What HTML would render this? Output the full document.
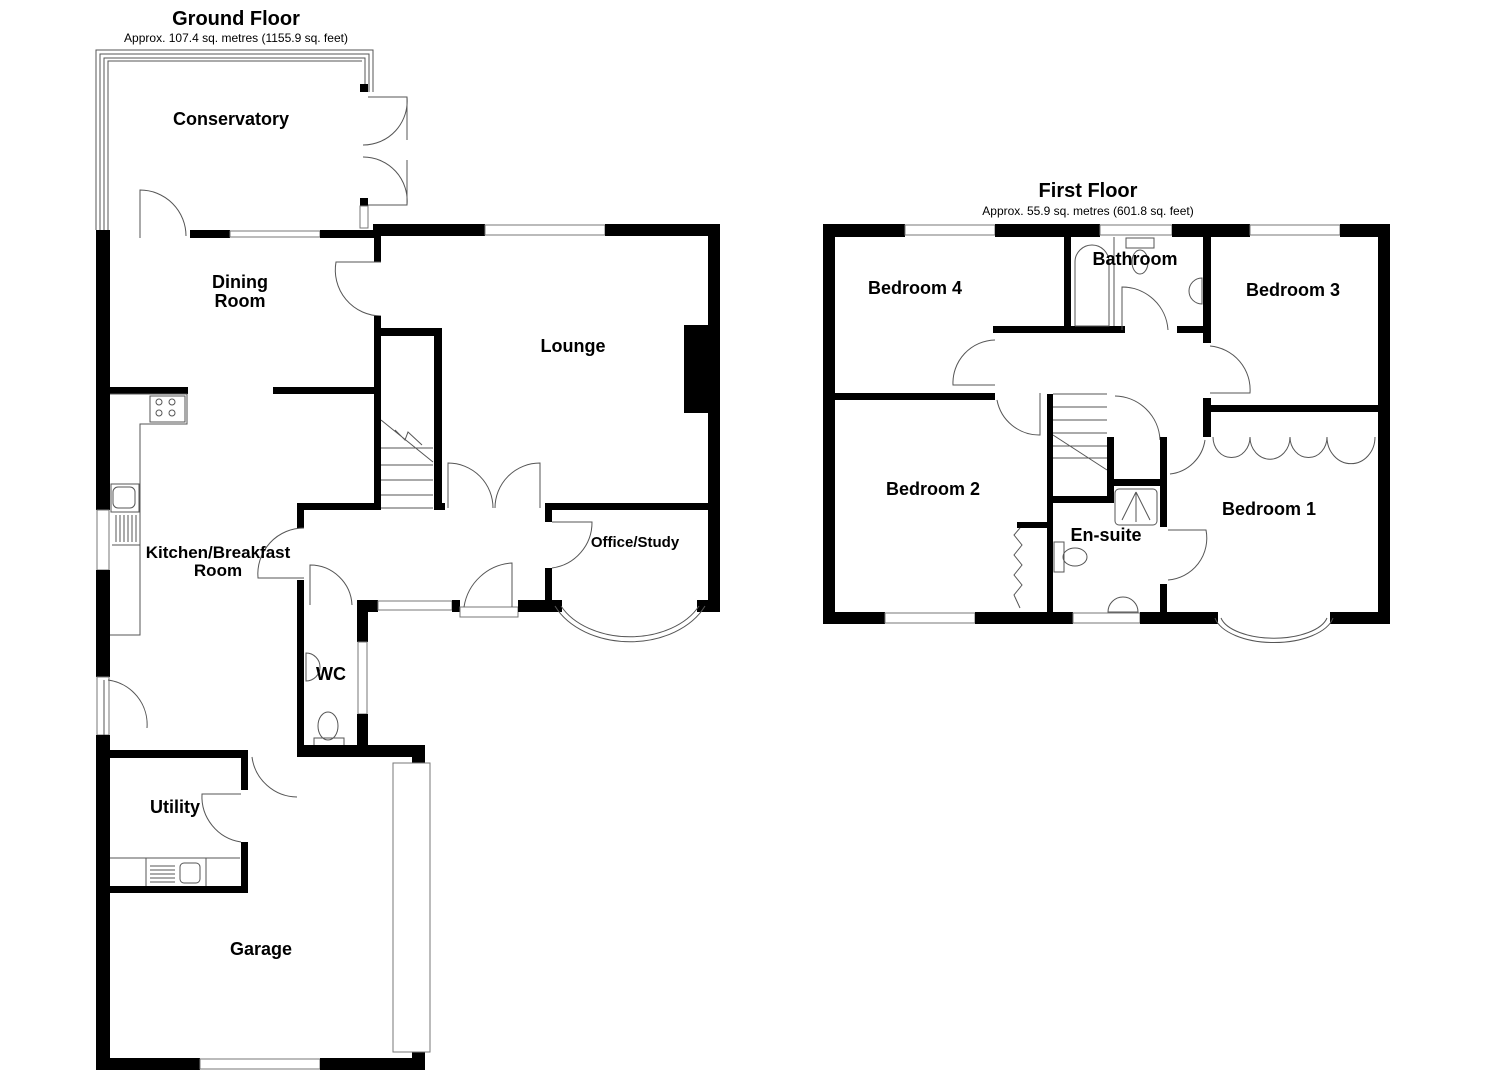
<!DOCTYPE html>
<html><head><meta charset="utf-8"><style>
html,body{margin:0;padding:0;background:#fff;}
svg{display:block}
text{font-family:"Liberation Sans",Arial,sans-serif;font-weight:bold;fill:#000;text-anchor:middle}
.s{font-weight:normal}
.t{fill:none;stroke:#555;stroke-width:1}
.w{fill:#fff;stroke:#777;stroke-width:1}
</style></head><body>
<svg width="1485" height="1080" viewBox="0 0 1485 1080" xmlns="http://www.w3.org/2000/svg">
<!-- titles -->
<text x="236" y="25" font-size="20">Ground Floor</text>
<text x="236" y="42" font-size="12" class="s">Approx. 107.4 sq. metres (1155.9 sq. feet)</text>
<text x="1088" y="197" font-size="20">First Floor</text>
<text x="1088" y="215" font-size="12" class="s">Approx. 55.9 sq. metres (601.8 sq. feet)</text>

<!-- ================= GROUND FLOOR ================= -->
<!-- conservatory frame -->
<path class="t" d="M96 230 V50 H373 V92 M100 230 V54 H369 V92 M104 230 V58 H365 V92 M108 230 V61 H362"/>
<rect x="360" y="84" width="8" height="8" fill="#000"/>
<rect x="360" y="198" width="8" height="8" fill="#000"/>
<rect class="w" x="360" y="206" width="8" height="22"/>
<!-- french doors conservatory -->
<path class="t" d="M368 97 H407 A44 44 0 0 1 363 145 M368 205 H407 A44 44 0 0 0 363 157 M407 97 V140 M407 205 V160"/>

<!-- dining top wall -->
<rect x="96" y="230" width="14" height="8" fill="#000"/>
<rect x="190" y="230" width="40" height="8" fill="#000"/>
<rect class="w" x="230" y="231" width="90" height="6"/>
<rect x="320" y="230" width="60" height="8" fill="#000"/>
<path class="t" d="M140 238 V190 A46 46 0 0 1 186 236"/>
<!-- lounge top wall -->
<rect x="373" y="224" width="112" height="12" fill="#000"/>
<rect class="w" x="485" y="225" width="120" height="10"/>
<rect x="605" y="224" width="115" height="12" fill="#000"/>
<!-- lounge right wall -->
<rect x="708" y="224" width="12" height="388" fill="#000"/>
<rect x="684" y="325" width="26" height="88" fill="#000"/>
<!-- dining/lounge wall with door -->
<rect x="374" y="236" width="7" height="26" fill="#000"/>
<path class="t" d="M381 262 H336 A46 46 0 0 0 381 316"/>
<rect x="374" y="316" width="7" height="194" fill="#000"/>
<!-- stair enclosure -->
<rect x="381" y="328" width="60" height="8" fill="#000"/>
<rect x="434" y="328" width="8" height="182" fill="#000"/>
<path class="t" d="M381 420 L433 462 M381 448 H433 M381 465 H433 M381 480 H433 M381 495 H433 M381 508 H433 M395 430 L405 440 L408 432 L422 445"/>
<!-- dining/kitchen divider -->
<rect x="108" y="387" width="80" height="7" fill="#000"/>
<rect x="273" y="387" width="102" height="7" fill="#000"/>
<!-- left wall -->
<rect x="96" y="236" width="14" height="274" fill="#000"/>
<rect class="w" x="97" y="510" width="12" height="60"/>
<rect x="96" y="570" width="14" height="107" fill="#000"/>
<rect class="w" x="97" y="677" width="12" height="58"/>
<path class="t" d="M108 680 A45 45 0 0 1 147 728 M104 680 V735"/>
<rect x="96" y="735" width="14" height="335" fill="#000"/>
<!-- kitchen counter -->
<path class="t" d="M110 394 H187 V424 H140 V635 H110"/>
<rect class="t" x="150" y="396" width="35" height="26"/>
<circle class="t" cx="159" cy="402" r="3"/><circle class="t" cx="172" cy="402" r="3"/>
<circle class="t" cx="159" cy="413" r="3"/><circle class="t" cx="172" cy="413" r="3"/>
<rect class="t" x="111" y="484" width="28" height="28"/>
<rect class="t" x="113" y="487" width="22" height="21" rx="5"/>
<path class="t" d="M112 512 H140 M112 545 H140 M116 515 V542 M120 515 V542 M124 515 V542 M128 515 V542 M132 515 V542 M136 515 V542"/>
<!-- hall -->
<rect x="297" y="503" width="84" height="7" fill="#000"/>
<rect x="434" y="503" width="11" height="7" fill="#000"/>
<rect x="545" y="503" width="170" height="7" fill="#000"/>
<rect x="297" y="503" width="7" height="25" fill="#000"/>
<path class="t" d="M304 528 A46 46 0 0 0 258 578 H304"/>
<rect x="297" y="580" width="7" height="177" fill="#000"/>
<!-- double doors into lounge -->
<path class="t" d="M448 508 V463 A45 45 0 0 1 493 508 M540 508 V463 A45 45 0 0 0 495 508"/>
<!-- office door -->
<rect x="545" y="510" width="7" height="12" fill="#000"/>
<path class="t" d="M552 522 H592 A46 46 0 0 1 552 568"/>
<rect x="545" y="568" width="7" height="44" fill="#000"/>
<!-- WC door -->
<path class="t" d="M310 605 V565 A42 42 0 0 1 352 605"/>
<!-- hall bottom -->
<rect x="357" y="600" width="21" height="12" fill="#000"/>
<rect class="w" x="378" y="601" width="74" height="9"/>
<rect x="452" y="600" width="8" height="12" fill="#000"/>
<rect class="w" x="460" y="607" width="58" height="10"/>
<path class="t" d="M512 607 V563 A52 52 0 0 0 464 607"/>
<rect x="518" y="600" width="44" height="12" fill="#000"/>
<rect x="697" y="600" width="23" height="12" fill="#000"/>
<path class="t" d="M555 606 A82 60 0 0 0 705 606 M561 606 A76 53 0 0 0 699 606"/>
<!-- WC -->
<rect x="357" y="600" width="11" height="42" fill="#000"/>
<rect class="w" x="358" y="642" width="9" height="72"/>
<rect x="357" y="714" width="11" height="36" fill="#000"/>
<path class="t" d="M306 653 A14 14 0 0 1 306 681 Z"/>
<rect class="t" x="314" y="738" width="30" height="10"/>
<ellipse class="t" cx="328" cy="726" rx="10" ry="14"/>
<rect x="297" y="745" width="128" height="12" fill="#000"/>
<rect x="412" y="745" width="13" height="18" fill="#000"/>
<!-- kitchen-garage door -->
<path class="t" d="M297 797 A46 46 0 0 1 252 757"/>
<!-- utility -->
<rect x="108" y="750" width="140" height="8" fill="#000"/>
<rect x="241" y="750" width="7" height="40" fill="#000"/>
<path class="t" d="M241 794 H202 A46 46 0 0 0 241 842"/>
<rect x="241" y="842" width="7" height="51" fill="#000"/>
<rect x="108" y="886" width="140" height="7" fill="#000"/>
<path class="t" d="M110 858 H240 M146 858 V886 M206 858 V886"/>
<path class="t" d="M150 866 H175 M150 870 H175 M150 874 H175 M150 878 H175 M150 882 H175"/>
<rect class="t" x="180" y="863" width="20" height="20" rx="4"/>
<!-- garage -->
<rect x="96" y="1058" width="104" height="12" fill="#000"/>
<rect class="w" x="200" y="1059" width="120" height="10"/>
<rect x="320" y="1058" width="105" height="12" fill="#000"/>
<rect x="412" y="1052" width="13" height="8" fill="#000"/>
<rect class="w" x="393" y="763" width="37" height="289"/>

<!-- labels GF -->
<text x="231" y="125" font-size="18">Conservatory</text>
<text x="240" y="288" font-size="18">Dining</text>
<text x="240" y="307" font-size="18">Room</text>
<text x="573" y="352" font-size="18">Lounge</text>
<text x="218" y="558" font-size="17">Kitchen/Breakfast</text>
<text x="218" y="576" font-size="17">Room</text>
<text x="635" y="547" font-size="15">Office/Study</text>
<text x="331" y="680" font-size="18">WC</text>
<text x="175" y="813" font-size="18">Utility</text>
<text x="261" y="955" font-size="18">Garage</text>

<!-- ================= FIRST FLOOR ================= -->
<rect x="823" y="224" width="82" height="13" fill="#000"/>
<rect class="w" x="905" y="225" width="90" height="10"/>
<rect x="995" y="224" width="105" height="13" fill="#000"/>
<rect class="w" x="1100" y="225" width="72" height="10"/>
<rect x="1172" y="224" width="78" height="13" fill="#000"/>
<rect class="w" x="1250" y="225" width="90" height="10"/>
<rect x="1340" y="224" width="50" height="13" fill="#000"/>
<rect x="823" y="224" width="12" height="400" fill="#000"/>
<rect x="1378" y="224" width="12" height="400" fill="#000"/>
<rect x="823" y="612" width="62" height="12" fill="#000"/>
<rect class="w" x="885" y="613" width="90" height="10"/>
<rect x="975" y="612" width="98" height="12" fill="#000"/>
<rect class="w" x="1073" y="613" width="67" height="10"/>
<rect x="1140" y="612" width="78" height="12" fill="#000"/>
<rect x="1330" y="612" width="60" height="12" fill="#000"/>
<path class="t" d="M1215 618 A60 30 0 0 0 1333 618 M1221 618 A54 25 0 0 0 1327 618"/>
<!-- bath walls -->
<rect x="1064" y="237" width="7" height="93" fill="#000"/>
<rect x="993" y="326" width="132" height="7" fill="#000"/>
<rect x="1177" y="326" width="30" height="7" fill="#000"/>
<rect x="1203" y="237" width="8" height="106" fill="#000"/>
<rect x="1203" y="398" width="8" height="39" fill="#000"/>
<rect x="1210" y="405" width="168" height="7" fill="#000"/>
<rect x="835" y="393" width="160" height="7" fill="#000"/>
<!-- bath fittings -->
<path class="t" d="M1075 326 V262 A17 17 0 0 1 1109 262 V326 H1075 M1114 237 V326"/>
<rect class="t" x="1126" y="238" width="28" height="10"/>
<ellipse class="t" cx="1140" cy="262" rx="8" ry="12"/>
<path class="t" d="M1202 278 A13 13 0 0 0 1202 304 Z"/>
<!-- doors FF -->
<path class="t" d="M995 340 A43 43 0 0 0 953 385 H995"/>
<path class="t" d="M997 400 A43 43 0 0 0 1040 435 V393"/>
<path class="t" d="M1122 330 V287 A46 46 0 0 1 1168 330"/>
<path class="t" d="M1210 346 A44 44 0 0 1 1250 393 H1210"/>
<path class="t" d="M1115 396 A46 46 0 0 1 1160 440"/>
<path class="t" d="M1205 440 A40 40 0 0 1 1170 474"/>
<path class="t" d="M1168 530 H1206 A42 42 0 0 1 1168 580"/>
<!-- stair area -->
<rect x="1047" y="394" width="6" height="219" fill="#000"/>
<path class="t" d="M1053 394 H1107 M1053 407 H1107 M1053 420 H1107 M1053 433 H1107 M1053 446 H1107 M1053 458 H1107 M1053 435 L1107 470"/>
<rect x="1107" y="437" width="7" height="66" fill="#000"/>
<rect x="1053" y="496" width="60" height="7" fill="#000"/>
<rect x="1113" y="479" width="54" height="7" fill="#000"/>
<rect x="1160" y="437" width="7" height="90" fill="#000"/>
<rect x="1160" y="584" width="7" height="30" fill="#000"/>
<rect class="t" x="1115" y="489" width="42" height="36" rx="4"/>
<path class="t" d="M1136 492 L1122 520 M1136 492 V522 M1136 492 L1150 520"/>
<!-- ensuite fittings -->
<rect class="t" x="1054" y="542" width="10" height="30"/>
<ellipse class="t" cx="1075" cy="557" rx="12" ry="9"/>
<path class="t" d="M1108 612 A14 14 0 0 1 1138 612 Z"/>
<!-- wardrobes bed1 -->
<path class="t" d="M1213 437 A18 20 0 0 0 1250 437 M1250 437 A18 20 0 0 0 1290 437 M1290 437 A18 20 0 0 0 1327 437 M1327 437 A18 20 0 0 0 1375 437"/>
<!-- bed2 wardrobe -->
<rect x="1017" y="522" width="30" height="6" fill="#000"/>
<path class="t" d="M1020 528 L1014 535 L1022 545 L1014 555 L1022 565 L1014 575 L1022 585 L1014 595 L1020 608"/>

<!-- labels FF -->
<text x="915" y="294" font-size="18">Bedroom 4</text>
<text x="1135" y="265" font-size="18">Bathroom</text>
<text x="1293" y="296" font-size="18">Bedroom 3</text>
<text x="933" y="495" font-size="18">Bedroom 2</text>
<text x="1269" y="515" font-size="18">Bedroom 1</text>
<text x="1106" y="541" font-size="18">En-suite</text>
</svg>
</body></html>
